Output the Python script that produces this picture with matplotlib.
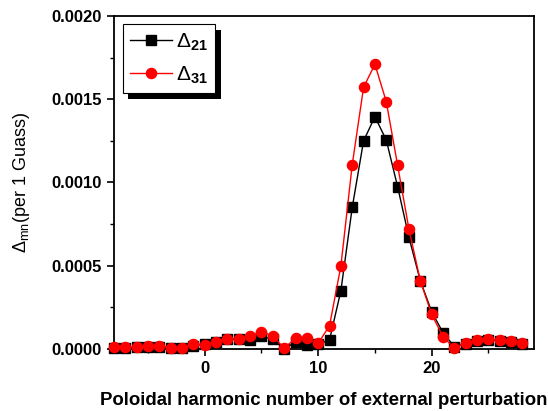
import numpy as np
import matplotlib
matplotlib.use("Agg")
from matplotlib import pyplot as plt
import matplotlib.patheffects as pe

plt.rcParams['font.family'] = ['Liberation Sans', 'DejaVu Sans']
plt.rcParams['mathtext.fontset'] = 'custom'
plt.rcParams['mathtext.rm'] = 'Liberation Sans'
plt.rcParams['mathtext.bf'] = 'Liberation Sans:bold'

# poloidal harmonic number
m = np.arange(-8, 29)

# delta_21 (black squares)
d21 = [0.000008, 0.000008, 0.000010, 0.000014, 0.000014, 0.000006, 0.000006, 0.000020,
       0.000032, 0.000040, 0.000058, 0.000058, 0.000056, 0.000076, 0.000058, 0.000002,
       0.000040, 0.000022, 0.000028, 0.000054, 0.000350, 0.000850, 0.001250, 0.001395,
       0.001255, 0.000975, 0.000670, 0.000410, 0.000224, 0.000098, 0.000014, 0.000030,
       0.000050, 0.000054, 0.000050, 0.000044, 0.000030]

# delta_31 (red circles)
d31 = [0.000010, 0.000010, 0.000014, 0.000018, 0.000018, 0.000008, 0.000008, 0.000028,
       0.000022, 0.000044, 0.000062, 0.000062, 0.000078, 0.000102, 0.000078, 0.000004,
       0.000064, 0.000064, 0.000034, 0.000140, 0.000498, 0.001107, 0.001572, 0.001710,
       0.001486, 0.001103, 0.000719, 0.000410, 0.000208, 0.000074, 0.000004, 0.000036,
       0.000054, 0.000058, 0.000054, 0.000048, 0.000034]

fig = plt.figure(figsize=(5.48, 4.11), dpi=100)
ax = fig.add_axes([0.208, 0.151, 0.766, 0.810])

ax.plot(m, d21, color='black', lw=1, marker='s', ms=6.5, mec='black', mfc='black',
        label=r'$\Delta_{\mathbf{21}}$', clip_on=False, zorder=3)
ax.plot(m, d31, color='red', lw=1, marker='o', ms=7.3, mec='red', mfc='red',
        label=r'$\Delta_{\mathbf{31}}$', clip_on=False, zorder=4)

ax.set_xlim(-8, 29)
ax.set_ylim(0, 0.002)
ax.set_xticks([0, 10, 20])
ax.set_xticks([-5, 5, 15, 25], minor=True)
ax.set_yticks([0, 0.0005, 0.0010, 0.0015, 0.0020])
ax.set_yticks([0.00025, 0.00075, 0.00125, 0.00175], minor=True)
ax.set_yticklabels(['0.0000', '0.0005', '0.0010', '0.0015', '0.0020'])

for s in ax.spines.values():
    s.set_linewidth(1.3)
ax.tick_params(which='major', direction='out', length=5, width=1.2, labelsize=12, pad=4)
ax.tick_params(which='minor', direction='out', length=3, width=1.0)
for lab in ax.get_xticklabels() + ax.get_yticklabels():
    lab.set_fontweight('bold')

ax.set_xlabel('Poloidal harmonic number of external perturbation',
              fontsize=13.4, fontweight='bold')
ax.xaxis.set_label_coords(0.5, -0.128)
ax.set_ylabel(r'$\Delta_{\mathrm{mn}}$(per 1 Guass)', fontsize=13)
ax.yaxis.set_label_coords(-0.195, 0.5)

leg = ax.legend(loc='upper left', bbox_to_anchor=(0.021, 0.976), fontsize=15,
                frameon=True, fancybox=False, shadow=False, framealpha=1,
                handlelength=2.0, borderpad=0.35, labelspacing=0.55,
                handletextpad=0.2, borderaxespad=0)
frame = leg.get_frame()
frame.set_edgecolor('black')
frame.set_facecolor('white')
frame.set_linewidth(0.8)
frame.set_path_effects([pe.SimplePatchShadow(offset=(4, -4), shadow_rgbFace='black', alpha=1),
                        pe.Normal()])

fig.savefig('out.png', dpi=100)
